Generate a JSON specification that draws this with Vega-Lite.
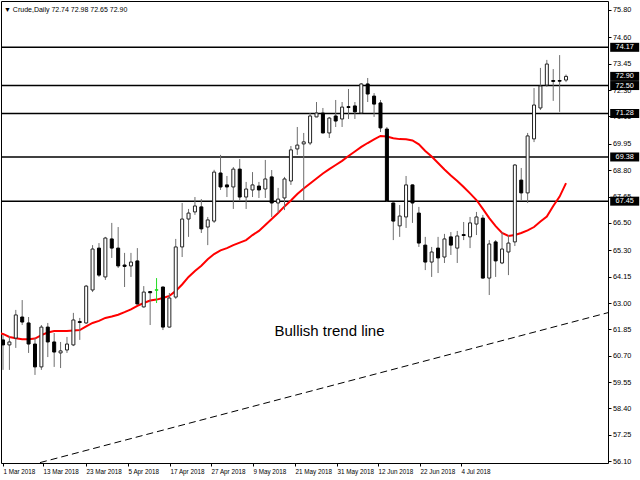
{
  "$schema": "https://vega.github.io/schema/vega-lite/v6.json",
  "width": 607,
  "height": 462,
  "autosize": {"type": "none"},
  "padding": {"left": 1, "top": 1, "right": 32, "bottom": 17},
  "background": "#ffffff",
  "config": {"view": {"stroke": "#000000", "strokeWidth": 1}, "scale": {"continuousPadding": 0}, "axis": {"labelOverlap": false}},
  "title": {"text": "▼ Crude,Daily  72.74 72.98 72.65 72.90", "anchor": "start", "frame": "group", "orient": "top", "offset": -12, "dx": 3, "font": "Liberation Sans", "fontSize": 7, "fontWeight": "normal", "color": "#000000"},
  "datasets": {
    "candles": [
      {"i":0,"o":61.39,"h":61.60,"l":60.08,"c":61.17,"d":"d"},
      {"i":1,"o":61.17,"h":61.56,"l":60.08,"c":61.30,"d":"u"},
      {"i":2,"o":61.47,"h":62.70,"l":61.04,"c":62.48,"d":"u"},
      {"i":3,"o":62.39,"h":63.13,"l":62.04,"c":62.17,"d":"d"},
      {"i":4,"o":62.13,"h":62.39,"l":60.82,"c":61.21,"d":"d"},
      {"i":5,"o":61.21,"h":61.47,"l":59.86,"c":60.21,"d":"d"},
      {"i":6,"o":60.21,"h":62.04,"l":60.08,"c":61.95,"d":"u"},
      {"i":7,"o":61.95,"h":62.13,"l":60.64,"c":61.30,"d":"d"},
      {"i":8,"o":61.30,"h":61.69,"l":60.21,"c":60.86,"d":"d"},
      {"i":9,"o":60.82,"h":61.30,"l":60.16,"c":60.91,"d":"u"},
      {"i":10,"o":60.95,"h":61.52,"l":60.82,"c":61.21,"d":"u"},
      {"i":11,"o":61.17,"h":62.57,"l":61.12,"c":62.26,"d":"u"},
      {"i":12,"o":62.19,"h":62.35,"l":61.39,"c":62.15,"d":"d"},
      {"i":13,"o":62.13,"h":63.79,"l":62.09,"c":63.74,"d":"u"},
      {"i":14,"o":63.57,"h":65.53,"l":63.48,"c":65.36,"d":"u"},
      {"i":15,"o":65.40,"h":65.62,"l":64.14,"c":64.22,"d":"d"},
      {"i":16,"o":64.14,"h":65.89,"l":64.01,"c":65.84,"d":"u"},
      {"i":17,"o":65.80,"h":66.50,"l":64.97,"c":65.40,"d":"d"},
      {"i":18,"o":65.40,"h":66.32,"l":64.53,"c":64.62,"d":"d"},
      {"i":19,"o":64.66,"h":65.19,"l":63.70,"c":64.60,"d":"d"},
      {"i":20,"o":64.62,"h":65.19,"l":64.14,"c":64.79,"d":"u"},
      {"i":21,"o":64.84,"h":65.40,"l":62.94,"c":62.96,"d":"d"},
      {"i":22,"o":62.83,"h":63.74,"l":62.80,"c":63.48,"d":"u"},
      {"i":23,"o":63.50,"h":63.52,"l":62.04,"c":63.45,"d":"d"},
      {"i":24,"o":63.58,"h":64.09,"l":63.00,"c":63.56,"d":"f"},
      {"i":25,"o":63.70,"h":63.72,"l":61.82,"c":61.95,"d":"d"},
      {"i":26,"o":61.95,"h":63.44,"l":61.93,"c":63.22,"d":"u"},
      {"i":27,"o":63.26,"h":65.80,"l":63.18,"c":65.45,"d":"u"},
      {"i":28,"o":65.45,"h":67.37,"l":65.01,"c":66.67,"d":"u"},
      {"i":29,"o":66.67,"h":67.11,"l":65.89,"c":66.93,"d":"u"},
      {"i":30,"o":66.98,"h":67.63,"l":66.85,"c":67.24,"d":"u"},
      {"i":31,"o":67.20,"h":67.54,"l":66.06,"c":66.24,"d":"d"},
      {"i":32,"o":66.32,"h":66.76,"l":65.53,"c":66.63,"d":"u"},
      {"i":33,"o":66.58,"h":68.82,"l":66.50,"c":68.72,"d":"u"},
      {"i":34,"o":68.68,"h":69.47,"l":67.94,"c":68.07,"d":"d"},
      {"i":35,"o":68.16,"h":68.55,"l":67.63,"c":68.07,"d":"d"},
      {"i":36,"o":68.07,"h":68.94,"l":67.11,"c":68.85,"d":"u"},
      {"i":37,"o":68.85,"h":69.29,"l":67.50,"c":67.63,"d":"d"},
      {"i":38,"o":67.63,"h":68.29,"l":67.11,"c":67.98,"d":"u"},
      {"i":39,"o":67.94,"h":68.72,"l":67.63,"c":68.16,"d":"u"},
      {"i":40,"o":68.11,"h":68.29,"l":67.59,"c":67.94,"d":"d"},
      {"i":41,"o":67.98,"h":69.25,"l":67.59,"c":68.42,"d":"u"},
      {"i":42,"o":68.51,"h":68.81,"l":66.76,"c":67.37,"d":"d"},
      {"i":43,"o":67.37,"h":68.03,"l":66.93,"c":67.54,"d":"u"},
      {"i":44,"o":67.59,"h":68.51,"l":67.06,"c":68.42,"d":"u"},
      {"i":45,"o":68.33,"h":69.86,"l":68.16,"c":69.69,"d":"u"},
      {"i":46,"o":69.73,"h":70.69,"l":69.47,"c":69.90,"d":"u"},
      {"i":47,"o":69.95,"h":70.43,"l":67.50,"c":70.04,"d":"u"},
      {"i":48,"o":69.99,"h":71.30,"l":69.90,"c":71.17,"d":"u"},
      {"i":49,"o":71.13,"h":71.78,"l":71.12,"c":71.30,"d":"u"},
      {"i":50,"o":71.30,"h":71.52,"l":70.41,"c":70.43,"d":"d"},
      {"i":51,"o":70.43,"h":71.13,"l":70.21,"c":71.08,"d":"u"},
      {"i":52,"o":71.17,"h":71.87,"l":70.69,"c":70.95,"d":"d"},
      {"i":53,"o":71.04,"h":71.78,"l":70.69,"c":71.56,"d":"u"},
      {"i":54,"o":71.58,"h":72.35,"l":71.04,"c":71.54,"d":"d"},
      {"i":55,"o":71.61,"h":71.78,"l":71.04,"c":71.35,"d":"d"},
      {"i":56,"o":71.30,"h":72.61,"l":71.28,"c":72.57,"d":"u"},
      {"i":57,"o":72.57,"h":72.83,"l":71.78,"c":72.13,"d":"d"},
      {"i":58,"o":72.04,"h":72.17,"l":71.13,"c":71.69,"d":"d"},
      {"i":59,"o":71.74,"h":71.87,"l":70.47,"c":70.65,"d":"d"},
      {"i":60,"o":70.60,"h":70.69,"l":67.41,"c":67.46,"d":"d"},
      {"i":61,"o":67.37,"h":67.39,"l":65.75,"c":66.58,"d":"d"},
      {"i":62,"o":66.37,"h":67.28,"l":65.89,"c":66.80,"d":"u"},
      {"i":63,"o":66.76,"h":68.55,"l":66.28,"c":68.16,"d":"u"},
      {"i":64,"o":68.16,"h":68.18,"l":66.50,"c":67.37,"d":"d"},
      {"i":65,"o":66.93,"h":67.20,"l":65.45,"c":65.62,"d":"d"},
      {"i":66,"o":65.53,"h":65.89,"l":64.44,"c":64.79,"d":"d"},
      {"i":67,"o":64.79,"h":65.45,"l":64.14,"c":65.23,"d":"u"},
      {"i":68,"o":65.40,"h":65.89,"l":64.31,"c":64.97,"d":"d"},
      {"i":69,"o":65.01,"h":66.02,"l":64.75,"c":65.80,"d":"u"},
      {"i":70,"o":65.89,"h":66.10,"l":65.10,"c":65.53,"d":"d"},
      {"i":71,"o":65.40,"h":66.15,"l":64.75,"c":65.93,"d":"u"},
      {"i":72,"o":65.99,"h":66.54,"l":65.75,"c":65.95,"d":"d"},
      {"i":73,"o":65.89,"h":66.76,"l":65.40,"c":66.50,"d":"u"},
      {"i":74,"o":66.45,"h":66.98,"l":65.97,"c":66.76,"d":"u"},
      {"i":75,"o":66.71,"h":66.85,"l":64.07,"c":64.09,"d":"d"},
      {"i":76,"o":64.09,"h":65.75,"l":63.35,"c":65.58,"d":"u"},
      {"i":77,"o":65.67,"h":65.75,"l":64.14,"c":64.84,"d":"d"},
      {"i":78,"o":64.75,"h":66.10,"l":64.70,"c":65.36,"d":"u"},
      {"i":79,"o":65.23,"h":65.97,"l":64.22,"c":65.62,"d":"u"},
      {"i":80,"o":65.67,"h":69.07,"l":65.49,"c":69.03,"d":"u"},
      {"i":81,"o":68.37,"h":68.90,"l":67.50,"c":67.81,"d":"d"},
      {"i":82,"o":67.81,"h":70.43,"l":67.37,"c":70.30,"d":"u"},
      {"i":83,"o":70.17,"h":72.39,"l":70.03,"c":71.65,"d":"u"},
      {"i":84,"o":71.52,"h":73.27,"l":71.43,"c":72.48,"d":"u"},
      {"i":85,"o":72.52,"h":73.62,"l":72.44,"c":73.44,"d":"u"},
      {"i":86,"o":72.72,"h":73.22,"l":71.83,"c":72.68,"d":"d"},
      {"i":87,"o":72.72,"h":73.83,"l":71.35,"c":72.69,"d":"d"},
      {"i":88,"o":72.74,"h":72.98,"l":72.65,"c":72.90,"d":"u"}
    ],
    "ma": [
      {"i":-1,"ma":61.72},{"i":0,"ma":61.65},{"i":1,"ma":61.52},{"i":2,"ma":61.46},{"i":3,"ma":61.42},
      {"i":4,"ma":61.42},{"i":5,"ma":61.45},{"i":6,"ma":61.60},{"i":7,"ma":61.71},{"i":8,"ma":61.78},
      {"i":9,"ma":61.78},{"i":10,"ma":61.78},{"i":11,"ma":61.80},{"i":12,"ma":61.82},{"i":13,"ma":61.98},
      {"i":14,"ma":62.13},{"i":15,"ma":62.22},{"i":16,"ma":62.35},{"i":17,"ma":62.41},{"i":18,"ma":62.49},
      {"i":19,"ma":62.60},{"i":20,"ma":62.72},{"i":21,"ma":62.88},{"i":22,"ma":63.00},{"i":23,"ma":63.11},
      {"i":24,"ma":63.15},{"i":25,"ma":63.22},{"i":26,"ma":63.31},{"i":27,"ma":63.53},{"i":28,"ma":63.81},
      {"i":29,"ma":64.14},{"i":30,"ma":64.40},{"i":31,"ma":64.63},{"i":32,"ma":64.91},{"i":33,"ma":65.14},
      {"i":34,"ma":65.30},{"i":35,"ma":65.40},{"i":36,"ma":65.53},{"i":37,"ma":65.64},{"i":38,"ma":65.75},
      {"i":39,"ma":65.97},{"i":40,"ma":66.15},{"i":41,"ma":66.41},{"i":42,"ma":66.67},{"i":43,"ma":66.93},
      {"i":44,"ma":67.22},{"i":45,"ma":67.48},{"i":46,"ma":67.76},{"i":47,"ma":68.00},{"i":48,"ma":68.22},
      {"i":49,"ma":68.44},{"i":50,"ma":68.66},{"i":51,"ma":68.85},{"i":52,"ma":69.03},{"i":53,"ma":69.21},
      {"i":54,"ma":69.42},{"i":55,"ma":69.62},{"i":56,"ma":69.82},{"i":57,"ma":69.99},{"i":58,"ma":70.15},
      {"i":59,"ma":70.30},{"i":60,"ma":70.27},{"i":61,"ma":70.20},{"i":62,"ma":70.16},{"i":63,"ma":70.15},
      {"i":64,"ma":70.10},{"i":65,"ma":69.93},{"i":66,"ma":69.64},{"i":67,"ma":69.40},{"i":68,"ma":69.12},
      {"i":69,"ma":68.83},{"i":70,"ma":68.57},{"i":71,"ma":68.33},{"i":72,"ma":68.07},{"i":73,"ma":67.79},
      {"i":74,"ma":67.50},{"i":75,"ma":67.11},{"i":76,"ma":66.71},{"i":77,"ma":66.36},{"i":78,"ma":66.06},
      {"i":79,"ma":65.93},{"i":80,"ma":65.97},{"i":81,"ma":66.06},{"i":82,"ma":66.17},{"i":83,"ma":66.32},
      {"i":84,"ma":66.56},{"i":85,"ma":66.78},{"i":86,"ma":67.24},{"i":87,"ma":67.65},{"i":88,"ma":68.24}
    ],
    "levels": [{"p":74.17},{"p":72.50},{"p":71.28},{"p":69.38},{"p":67.45}],
    "tags": [{"p":74.17,"lab":"74.17"},{"p":72.90,"lab":"72.90"},{"p":72.50,"lab":"72.50"},{"p":71.28,"lab":"71.28"},{"p":69.38,"lab":"69.38"},{"p":67.45,"lab":"67.45"}],
    "trend": [{"i":5.78,"p":56.03},{"i":94.56,"p":62.58}],
    "notes": [{"i":51.03,"p":61.78,"note":"Bullish trend line"}]
  },
  "layer": [
    {
      "data": {"name": "levels"},
      "mark": {"type": "rule", "color": "#000000", "strokeWidth": 1.5},
      "encoding": {
        "y": {"field": "p", "type": "quantitative", "scale": {"domain": [56.013, 76.193], "nice": false, "zero": false, "padding": 0},
          "axis": {"title": null, "orient": "right", "tickCount": 30, "values": [75.80,74.60,73.45,72.30,71.15,69.95,68.80,67.65,66.50,65.30,64.15,63.00,61.85,60.70,59.55,58.40,57.25,56.10], "format": ".2f", "grid": false, "domain": false, "tickSize": 3, "tickColor": "#000000", "labelPadding": 1.5, "labelFont": "Liberation Sans", "labelFontSize": 7.3, "labelColor": "#000000", "labelOverlap": false, "labelBound": false, "labelFlush": false}}
      }
    },
    {
      "data": {"name": "trend"},
      "mark": {"type": "line", "color": "#000000", "strokeWidth": 1, "strokeDash": [7, 4], "clip": true},
      "encoding": {
        "x": {"field": "i", "type": "quantitative", "scale": {"domain": [-0.3126, 94.56], "nice": false, "zero": false, "padding": 0},
          "axis": {"title": null, "tickCount": 30, "values": [0,6.25,12.97,19.54,26.1,32.51,39.07,45.64,52.2,58.61,65.18,71.58], "labelExpr": "['1 Mar 2018','13 Mar 2018','23 Mar 2018','5 Apr 2018','17 Apr 2018','27 Apr 2018','9 May 2018','21 May 2018','31 May 2018','12 Jun 2018','22 Jun 2018','4 Jul 2018'][indexof([0,6.25,12.97,19.54,26.1,32.51,39.07,45.64,52.2,58.61,65.18,71.58], datum.value)]", "labelAlign": "left", "labelBaseline": "top", "labelFlush": false, "labelOverlap": false, "labelBound": false, "grid": false, "domain": false, "tickSize": 3, "tickColor": "#000000", "labelPadding": 2, "labelFont": "Liberation Sans", "labelFontSize": 6.3, "labelColor": "#000000"}},
        "y": {"field": "p", "type": "quantitative", "scale": {"domain": [56.013, 76.193], "nice": false, "zero": false, "padding": 0}}
      }
    },
    {
      "data": {"name": "ma"},
      "mark": {"type": "line", "color": "#ff0000", "strokeWidth": 2, "clip": true},
      "encoding": {
        "x": {"field": "i", "type": "quantitative", "scale": {"domain": [-0.3126, 94.56], "nice": false, "zero": false, "padding": 0}},
        "y": {"field": "ma", "type": "quantitative", "scale": {"domain": [56.013, 76.193], "nice": false, "zero": false, "padding": 0}}
      }
    },
    {
      "data": {"name": "candles"},
      "mark": {"type": "rule", "strokeWidth": 1},
      "encoding": {
        "x": {"field": "i", "type": "quantitative", "scale": {"domain": [-0.3126, 94.56], "nice": false, "zero": false, "padding": 0}},
        "y": {"field": "h", "type": "quantitative", "scale": {"domain": [56.013, 76.193], "nice": false, "zero": false, "padding": 0}},
        "y2": {"field": "l"},
        "color": {"field": "d", "type": "nominal", "scale": {"domain": ["u", "d", "f"], "range": ["#6e6e6e", "#6e6e6e", "#22dd22"]}, "legend": null}
      }
    },
    {
      "data": {"name": "candles"},
      "mark": {"type": "bar", "orient": "vertical", "width": 3, "strokeWidth": 1},
      "encoding": {
        "x": {"field": "i", "type": "quantitative", "scale": {"domain": [-0.3126, 94.56], "nice": false, "zero": false, "padding": 0}},
        "y": {"field": "o", "type": "quantitative", "scale": {"domain": [56.013, 76.193], "nice": false, "zero": false, "padding": 0}},
        "y2": {"field": "c"},
        "fill": {"field": "d", "type": "nominal", "scale": {"domain": ["u", "d", "f"], "range": ["#ffffff", "#000000", "#22dd22"]}, "legend": null},
        "stroke": {"field": "d", "type": "nominal", "scale": {"domain": ["u", "d", "f"], "range": ["#222222", "#000000", "#22dd22"]}, "legend": null}
      }
    },
    {
      "data": {"name": "notes"},
      "mark": {"type": "text", "font": "Liberation Sans", "fontSize": 15, "color": "#000000", "align": "center", "baseline": "middle"},
      "encoding": {
        "x": {"field": "i", "type": "quantitative", "scale": {"domain": [-0.3126, 94.56], "nice": false, "zero": false, "padding": 0}},
        "y": {"field": "p", "type": "quantitative", "scale": {"domain": [56.013, 76.193], "nice": false, "zero": false, "padding": 0}},
        "text": {"field": "note"}
      }
    },
    {
      "data": {"name": "tags"},
      "mark": {"type": "tick", "orient": "horizontal", "size": 29, "thickness": 9, "color": "#000000", "opacity": 1, "clip": false},
      "encoding": {
        "x": {"datum": 97.17, "type": "quantitative", "scale": {"domain": [-0.3126, 94.56], "nice": false, "zero": false, "padding": 0}},
        "y": {"field": "p", "type": "quantitative", "scale": {"domain": [56.013, 76.193], "nice": false, "zero": false, "padding": 0}}
      }
    },
    {
      "data": {"name": "tags"},
      "mark": {"type": "text", "font": "Liberation Sans", "fontSize": 7.3, "color": "#ffffff", "align": "center", "baseline": "middle", "clip": false},
      "encoding": {
        "x": {"datum": 97.17, "type": "quantitative", "scale": {"domain": [-0.3126, 94.56], "nice": false, "zero": false, "padding": 0}},
        "y": {"field": "p", "type": "quantitative", "scale": {"domain": [56.013, 76.193], "nice": false, "zero": false, "padding": 0}},
        "text": {"field": "lab"}
      }
    }
  ]
}
